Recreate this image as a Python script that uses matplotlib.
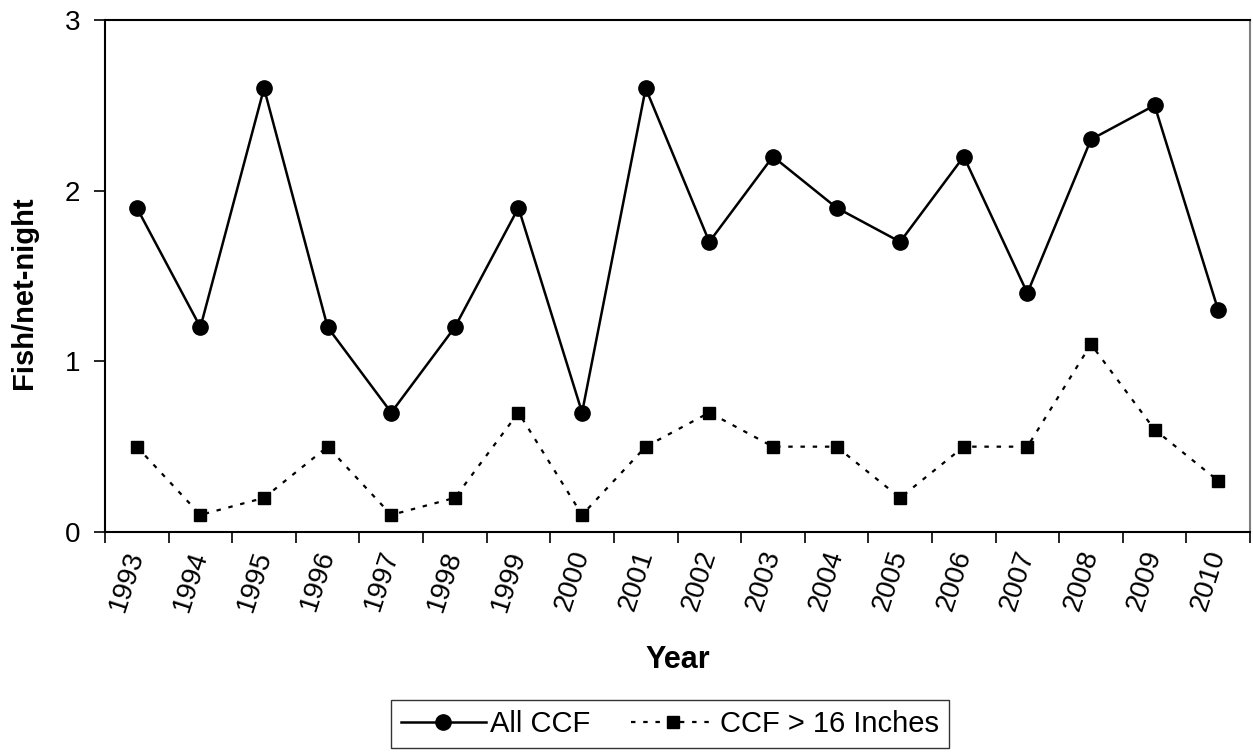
import matplotlib.pyplot as plt

plt.rcParams['font.family'] = ['Liberation Sans', 'DejaVu Sans']

# Datos
years = [str(y) for y in range(1993, 2011)]
all_ccf = [1.9, 1.2, 2.6, 1.2, 0.7, 1.2, 1.9, 0.7, 2.6, 1.7, 2.2, 1.9, 1.7, 2.2, 1.4, 2.3, 2.5, 1.3]
ccf_16 = [0.5, 0.1, 0.2, 0.5, 0.1, 0.2, 0.7, 0.1, 0.5, 0.7, 0.5, 0.5, 0.2, 0.5, 0.5, 1.1, 0.6, 0.3]

fig = plt.figure(figsize=(12.53, 7.53), dpi=100)
ax = fig.add_axes([105 / 1253, 1 - 532 / 753, 1145 / 1253, 512 / 753])

x = list(range(len(years)))
ax.plot(x, all_ccf, color='black', lw=1.8, marker='o', markersize=11, label='All CCF')
ax.plot(x, ccf_16, color='black', lw=1.6, linestyle=(0, (2, 3.5)), marker='s', markersize=9,
        label='CCF > 16 Inches')

ax.set_xlim(-0.5, len(years) - 0.5)
ax.set_ylim(0, 3)
ax.set_yticks([0, 1, 2, 3])
ax.tick_params(axis='y', labelsize=20, length=8, width=1.2, direction='out', pad=10)

# Marcas entre categorías, etiquetas en el centro
ax.set_xticks([i - 0.5 for i in range(len(years) + 1)])
ax.set_xticklabels([])
ax.set_xticks(x, minor=True)
ax.set_xticklabels(years, minor=True, rotation=72, fontsize=20,
                   ha='right', va='center', rotation_mode='anchor')
ax.tick_params(axis='x', which='major', length=8, width=1.2, direction='out')
ax.tick_params(axis='x', which='minor', length=0, pad=14)

for s in ['left', 'bottom', 'top']:
    ax.spines[s].set_linewidth(1.5)
ax.spines['right'].set_color('gray')
ax.spines['right'].set_linewidth(1.5)

ax.set_xlabel('Year', fontsize=22, fontweight='bold')
ax.xaxis.set_label_coords(0.5, -(645 - 532) / 512)
ax.set_ylabel('Fish/net-night', fontsize=21, fontweight='bold')
ax.yaxis.set_label_coords(-(105 - 38) / 1145, 1 - (293 - 20) / 512)

leg = fig.legend(loc='center', bbox_to_anchor=(670 / 1253, 1 - 724 / 753), ncol=2, fontsize=21,
                 frameon=True, fancybox=False, edgecolor='black', handlelength=2.9,
                 handletextpad=0.15, columnspacing=1.4, borderpad=0.35)
leg.get_frame().set_linewidth(1.0)

fig.savefig('out.png', dpi=100)
